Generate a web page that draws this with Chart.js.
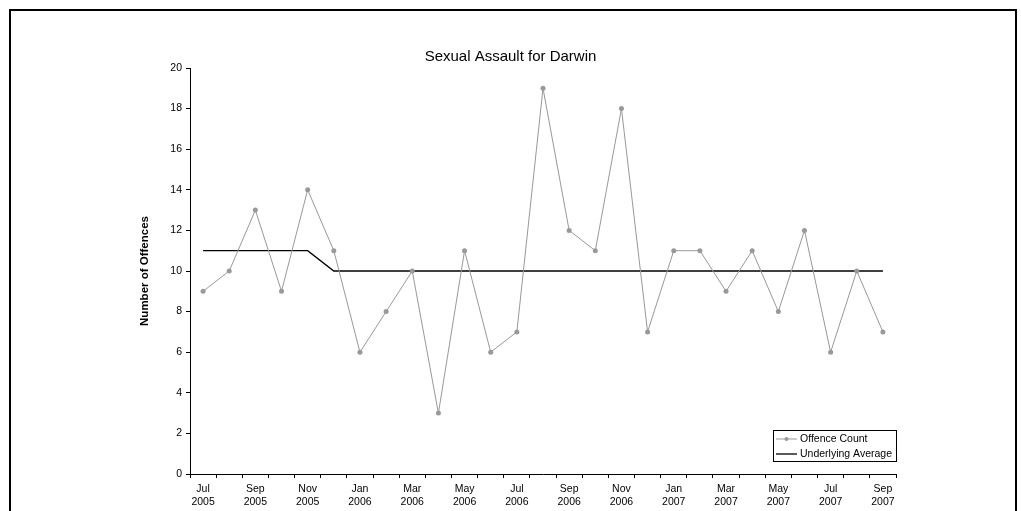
<!DOCTYPE html>
<html>
<head>
<meta charset="utf-8">
<script src="https://cdn.jsdelivr.net/npm/chart.js@4/dist/chart.umd.min.js"></script>
<style>
    html, body { margin: 0; padding: 0; background: #fff; }
    #wrap { width: 1021px; height: 511px; position: relative; }
</style>
</head>
<body>
<div id="wrap"><canvas id="myChart"></canvas></div>
<script>
// data bulanan, Jul 2005 - Sep 2007
const monthLabels = [
    ["Jul", "2005"], ["Aug", "2005"], ["Sep", "2005"], ["Oct", "2005"], ["Nov", "2005"], ["Dec", "2005"],
    ["Jan", "2006"], ["Feb", "2006"], ["Mar", "2006"], ["Apr", "2006"], ["May", "2006"], ["Jun", "2006"],
    ["Jul", "2006"], ["Aug", "2006"], ["Sep", "2006"], ["Oct", "2006"], ["Nov", "2006"], ["Dec", "2006"],
    ["Jan", "2007"], ["Feb", "2007"], ["Mar", "2007"], ["Apr", "2007"], ["May", "2007"], ["Jun", "2007"],
    ["Jul", "2007"], ["Aug", "2007"], ["Sep", "2007"],
];
const offenceCount = [9, 10, 13, 9, 14, 11, 6, 8, 10, 3, 11, 6, 7, 19, 12, 11, 18, 7, 11, 11, 9, 11, 8, 12, 6, 10, 7];
const underlyingAverage = [11, 11, 11, 11, 11, 10, 10, 10, 10, 10, 10, 10, 10, 10, 10, 10, 10, 10, 10, 10, 10, 10, 10, 10, 10, 10, 10];
const yTicks = [0, 2, 4, 6, 8, 10, 12, 14, 16, 18, 20];

const chartTitle = "Sexual Assault for Darwin";
const yTitle = "Number of Offences";

Chart.defaults.font.family = "'Liberation Sans', Arial, sans-serif";
Chart.defaults.color = "#000";

// bingkai luar + legend di dalam area chart
const framePlugin = {
    id: "frame",
    beforeDraw(chart) {
        const c = chart.ctx;
        c.save();
        c.fillStyle = "#fff";
        c.fillRect(0, 0, chart.width, chart.height);
        c.strokeStyle = "#000";
        c.lineWidth = 2;
        c.strokeRect(10, 10, 1006, 530);
        c.restore();
    },
    afterDraw(chart) {
        const c = chart.ctx;
        const area = chart.chartArea;
        const w = 123, h = 31;
        const x = area.right - w, y = area.bottom - 13 - h;
        c.save();
        c.fillStyle = "#fff";
        c.fillRect(x, y, w, h);
        c.strokeStyle = "#000";
        c.lineWidth = 1;
        c.strokeRect(x + 0.5, y + 0.5, w, h);
        c.font = "10.5px 'Liberation Sans', Arial, sans-serif";
        c.textBaseline = "middle";
        chart.data.datasets.forEach((ds, i) => {
            const ry = y + 9 + i * 15;
            c.strokeStyle = ds.borderColor;
            c.lineWidth = ds.borderWidth;
            c.beginPath();
            c.moveTo(x + 3, ry);
            c.lineTo(x + 24, ry);
            c.stroke();
            if (ds.pointRadius > 0) {
                c.fillStyle = ds.pointBackgroundColor;
                c.beginPath();
                c.arc(x + 13.5, ry, 2, 0, Math.PI * 2);
                c.fill();
            }
            c.fillStyle = "#000";
            c.fillText(ds.label, x + 27, ry);
        });
        c.restore();
    },
};

const ctx = document.getElementById("myChart");
const chart = new Chart(ctx, {
    type: "line",
    data: {
        labels: monthLabels,
        datasets: [
            {
                label: "Offence Count",
                data: offenceCount,
                borderColor: "#999999",
                borderWidth: 1,
                pointRadius: 2.5,
                pointBackgroundColor: "#999999",
                pointBorderColor: "#999999",
                pointBorderWidth: 0,
                tension: 0,
            },
            {
                label: "Underlying Average",
                data: underlyingAverage,
                borderColor: "#000000",
                borderWidth: 1.3,
                pointRadius: 0,
                tension: 0,
            },
        ],
    },
    options: {
        responsive: true,
        maintainAspectRatio: false,
        animation: false,
        layout: { padding: 0 },
        plugins: {
            legend: { display: false },
            tooltip: { enabled: false },
            title: {
                display: true,
                text: chartTitle,
                font: { size: 15, weight: "normal" },
                color: "#000",
                padding: { top: 48, bottom: 2 },
            },
        },
        scales: {
            x: {
                offset: true,
                grid: { offset: true, drawOnChartArea: false, drawTicks: true, tickLength: 4, color: "#000" },
                border: { display: true, color: "#000", width: 1 },
                ticks: {
                    autoSkip: false,
                    maxRotation: 0,
                    padding: 4,
                    font: { size: 10.5, lineHeight: 1.3 },
                    color: "#000",
                    callback: function (value, index) {
                        return index % 2 === 0 ? this.getLabelForValue(value) : "";
                    },
                },
                afterFit: (s) => { s.height = 37; },
            },
            y: {
                min: 0,
                max: 20,
                afterBuildTicks: (s) => { s.ticks = yTicks.map((v) => ({ value: v })); },
                grid: { drawOnChartArea: false, drawTicks: true, tickLength: 4, color: "#000" },
                border: { display: true, color: "#000", width: 1 },
                ticks: { padding: 4, font: { size: 10.5 }, color: "#000" },
                title: {
                    display: true,
                    text: yTitle,
                    font: { size: 11.5, weight: "bold" },
                    color: "#000",
                    padding: { top: 138, bottom: 0 },
                },
                afterFit: (s) => { s.width = 190; },
            },
            // spasi kanan supaya judul tetap di tengah kanvas
            spacer: {
                type: "linear",
                position: "right",
                display: true,
                grid: { display: false },
                border: { display: false },
                ticks: { display: false },
                afterFit: (s) => { s.width = 125; },
            },
        },
    },
    plugins: [framePlugin],
});
</script>
</body>
</html>
